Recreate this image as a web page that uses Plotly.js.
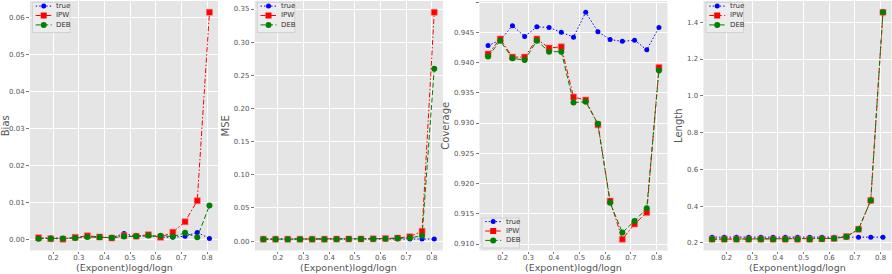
<!DOCTYPE html>
<html>
<head>
<meta charset="utf-8">
<script src="https://cdn.plot.ly/plotly-3.0.1.min.js"></script>
<style>html,body{margin:0;padding:0;background:#fff}#chart{width:892px;height:274px}</style>
</head>
<body>
<div id="chart"></div>
<script>
// Exponent values logd/logn
const exponent = [0.1429, 0.1905, 0.2381, 0.2857, 0.3333, 0.3810, 0.4286, 0.4762, 0.5238, 0.5714, 0.6190, 0.6667, 0.7143, 0.7619, 0.8095];

// Bias
const biasTrue = [0.0001, 0.0004, 0.0002, 0.0003, 0.0007, 0.0005, 0.0004, 0.0015, 0.0008, 0.0010, 0.0005, 0.0005, 0.0008, 0.0018, 0.0002];
const biasIPW  = [0.0004, 0.0001, 0.0000, 0.0005, 0.0009, 0.0006, 0.0003, 0.0009, 0.0008, 0.0012, 0.0005, 0.0019, 0.0047, 0.0104, 0.0613];
const biasDEB  = [0.0001, 0.0001, 0.0002, 0.0003, 0.0006, 0.0005, 0.0004, 0.0007, 0.0008, 0.0010, 0.0009, 0.0007, 0.0017, 0.0005, 0.0091];

// MSE
const mseTrue = [0.0030, 0.0030, 0.0030, 0.0030, 0.0030, 0.0030, 0.0030, 0.0030, 0.0030, 0.0031, 0.0031, 0.0031, 0.0031, 0.0031, 0.0032];
const mseIPW  = [0.0030, 0.0030, 0.0030, 0.0030, 0.0030, 0.0030, 0.0031, 0.0032, 0.0033, 0.0035, 0.0040, 0.0047, 0.0068, 0.0150, 0.3450];
const mseDEB  = [0.0030, 0.0030, 0.0030, 0.0030, 0.0030, 0.0030, 0.0030, 0.0031, 0.0032, 0.0034, 0.0038, 0.0042, 0.0050, 0.0080, 0.2600];

// Coverage
const covTrue = [0.9428, 0.9437, 0.9461, 0.9443, 0.9459, 0.9458, 0.9450, 0.9442, 0.9483, 0.9451, 0.9438, 0.9435, 0.9437, 0.9421, 0.9458];
const covIPW  = [0.9414, 0.9439, 0.9409, 0.9409, 0.9439, 0.9424, 0.9426, 0.9343, 0.9338, 0.9297, 0.9171, 0.9108, 0.9133, 0.9152, 0.9392];
const covDEB  = [0.9410, 0.9436, 0.9407, 0.9404, 0.9436, 0.9418, 0.9418, 0.9334, 0.9335, 0.9299, 0.9168, 0.9119, 0.9138, 0.9159, 0.9387];

// Length
const lenTrue = [0.231, 0.231, 0.231, 0.231, 0.231, 0.231, 0.231, 0.231, 0.231, 0.231, 0.231, 0.231, 0.231, 0.231, 0.231];
const lenIPW  = [0.220, 0.220, 0.220, 0.220, 0.220, 0.220, 0.220, 0.220, 0.220, 0.221, 0.224, 0.234, 0.274, 0.431, 1.454];
const lenDEB  = [0.220, 0.220, 0.220, 0.220, 0.220, 0.220, 0.220, 0.220, 0.220, 0.221, 0.224, 0.233, 0.274, 0.430, 1.454];

const seriesNames = ['true', 'IPW', 'DEB'];
const yTitles = ['Bias', 'MSE', 'Coverage', 'Length'];
const xTitle = '(Exponent)logd/logn';
const xTickVals = [0.2, 0.3, 0.4, 0.5, 0.6, 0.7, 0.8];

const BLUE = '#0000FF', RED = '#FF0000', GREEN = '#008000';
const DOT = '1.5px,2px', DASH = '5px,2.5px', DASHDOT = '5px,2px,1.5px,2px';

const panels = [
  {t: biasTrue, i: biasIPW, d: biasDEB, fmt: '.2f', dtick: 0.01, ipwDash: DASHDOT, debDash: DASH, legendTop: true},
  {t: mseTrue, i: mseIPW, d: mseDEB, fmt: '.2f', dtick: 0.05, ipwDash: DASHDOT, debDash: DASH, legendTop: true},
  {t: covTrue, i: covIPW, d: covDEB, fmt: '.3f', dtick: 0.005, ipwDash: DASHDOT, debDash: DASH, legendTop: false},
  {t: lenTrue, i: lenIPW, d: lenDEB, fmt: '.1f', dtick: 0.2, ipwDash: DASH, debDash: DASHDOT, legendTop: true}
];

const W = 892, H = 274;
const xPix = [[30, 218], [254.8, 442.8], [479.5, 667.5], [703.5, 891.5]];
const yTop = 1, yBot = 250.5;
const yDom = [1 - yBot / H, 1 - yTop / H];

function padRange(arrs) {
  const all = [].concat(...arrs);
  const mn = Math.min(...all), mx = Math.max(...all);
  const p = (mx - mn) * 0.05;
  return [mn - p, mx + p];
}
const xr = padRange([exponent]);

const px = v => v / W;
const py = v => 1 - v / H;

const traces = [];
const shapes = [];
const annotations = [];
const layout = {
  width: W, height: H,
  margin: {l: 0, r: 0, t: 0, b: 0},
  paper_bgcolor: '#ffffff',
  plot_bgcolor: '#E5E5E5',
  font: {family: 'DejaVu Sans', size: 7, color: '#555555'},
  showlegend: false
};

const tickFont = {family: 'DejaVu Sans', size: 7, color: '#555555'};
const titleFont = {family: 'DejaVu Sans', size: 9.5, color: '#555555'};

panels.forEach((p, k) => {
  const n = k === 0 ? '' : String(k + 1);
  const xa = 'x' + n, ya = 'y' + n;
  const common = {x: exponent, xaxis: xa, yaxis: ya, mode: 'lines+markers'};
  const styles = [
    {color: BLUE, dash: DOT, symbol: 'circle', size: 5},
    {color: RED, dash: p.ipwDash, symbol: 'square', size: 6},
    {color: GREEN, dash: p.debDash, symbol: 'circle', size: 6}
  ];
  [p.t, p.i, p.d].forEach((ys, s) => {
    const st = styles[s];
    traces.push(Object.assign({}, common, {y: ys, name: seriesNames[s],
      line: {color: st.color, width: 1, dash: st.dash},
      marker: {symbol: st.symbol, size: st.size, color: st.color,
               line: s === 1 ? {color: '#FF7070', width: 0.6} : {width: 0}}}));
  });

  layout['xaxis' + n] = {
    domain: [px(xPix[k][0]), px(xPix[k][1])],
    anchor: ya, range: xr,
    tickvals: xTickVals, tickformat: '.1f',
    showgrid: true, gridcolor: '#FFFFFF', gridwidth: 1,
    zeroline: false, showline: false,
    ticks: 'outside', ticklen: 2.5, tickcolor: '#555555', tickwidth: 0.8,
    ticklabelstandoff: -2,
    tickfont: tickFont,
    automargin: false
  };
  layout['yaxis' + n] = {
    domain: yDom, anchor: xa,
    range: padRange([p.t, p.i, p.d]),
    dtick: p.dtick, tick0: 0, tickformat: p.fmt,
    showgrid: true, gridcolor: '#FFFFFF', gridwidth: 1,
    zeroline: false, showline: false,
    ticks: 'outside', ticklen: 3, tickcolor: '#555555', tickwidth: 0.8,
    tickfont: tickFont,
    title: {text: yTitles[k], font: {family: 'DejaVu Sans', size: 10, color: '#555555'}, standoff: 2},
    automargin: false
  };

  // x-axis title
  annotations.push({xref: 'paper', yref: 'paper',
    x: px((xPix[k][0] + xPix[k][1]) / 2), y: py(274),
    xanchor: 'center', yanchor: 'bottom', showarrow: false,
    borderpad: 0, text: xTitle, font: titleFont});

  // compact legend box
  const L = xPix[k][0];
  const boxL = L + 2.5, boxR = L + 40;
  const boxT = p.legendTop ? 2.5 : 218;
  const boxB = boxT + 30;
  shapes.push({type: 'rect', xref: 'paper', yref: 'paper',
    x0: px(boxL), x1: px(boxR), y0: py(boxB), y1: py(boxT),
    fillcolor: 'rgba(236,236,236,0.9)', line: {color: '#CCCCCC', width: 0.8}, layer: 'above'});
  styles.forEach((st, s) => {
    const ry = boxT + 3.6 + s * 9.4;
    shapes.push({type: 'line', xref: 'paper', yref: 'paper',
      x0: px(L + 5.7), x1: px(L + 21.7), y0: py(ry), y1: py(ry),
      line: {color: st.color, width: 1, dash: st.dash}, layer: 'above'});
    const cx = L + 13.7, r = st.size / 2;
    shapes.push({type: st.symbol === 'square' ? 'rect' : 'circle', xref: 'paper', yref: 'paper',
      x0: px(cx - r), x1: px(cx + r), y0: py(ry + r), y1: py(ry - r),
      fillcolor: st.color, line: {width: 0}, layer: 'above'});
    annotations.push({xref: 'paper', yref: 'paper', x: px(L + 24), y: py(ry),
      xanchor: 'left', yanchor: 'middle', showarrow: false, text: seriesNames[s],
      font: {family: 'DejaVu Sans', size: 7, color: '#333333'}});
  });
});

layout.shapes = shapes;
layout.annotations = annotations;

Plotly.newPlot('chart', traces, layout, {displayModeBar: false, staticPlot: true});
</script>
</body>
</html>
